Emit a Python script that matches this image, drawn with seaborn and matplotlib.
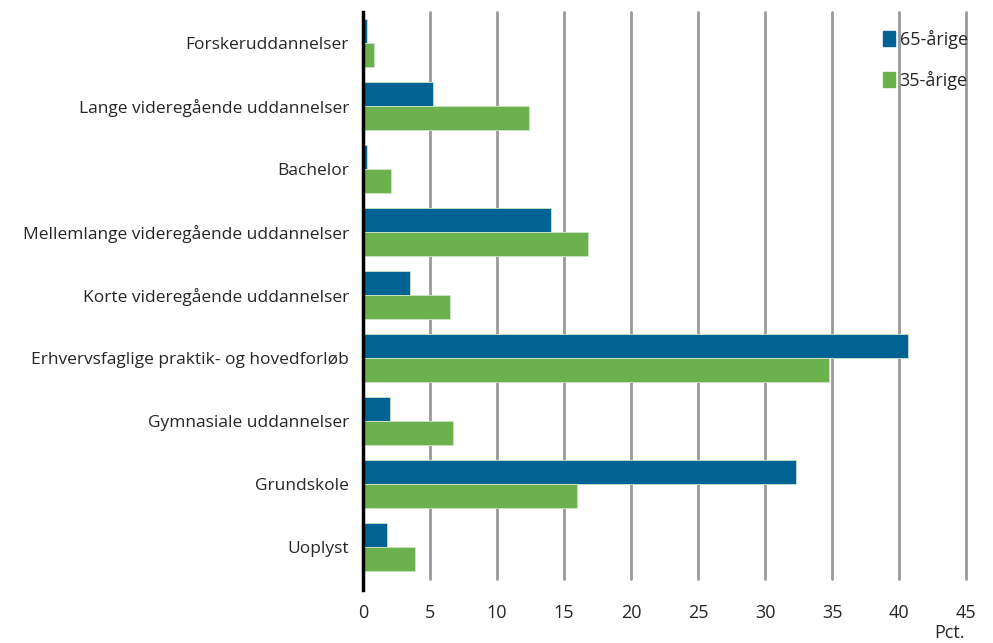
import numpy as np
import matplotlib.pyplot as plt
import pandas as pd
import seaborn as sns
from matplotlib.patches import Patch

# Uddannelsesniveau, andel i pct.
categories = ['Forskeruddannelser', 'Lange videregående uddannelser', 'Bachelor',
              'Mellemlange videregående uddannelser', 'Korte videregående uddannelser',
              'Erhvervsfaglige praktik- og hovedforløb', 'Gymnasiale uddannelser',
              'Grundskole', 'Uoplyst']
age65 = [0.3, 5.2, 0.3, 14.0, 3.5, 40.7, 2.0, 32.3, 1.8]
age35 = [0.8, 12.4, 2.1, 16.8, 6.5, 34.8, 6.7, 16.0, 3.9]
series = ['65-årige', '35-årige']
xticks = [0, 5, 10, 15, 20, 25, 30, 35, 40, 45]

df = pd.DataFrame({'Uddannelse': categories * 2,
                   'Pct': age65 + age35,
                   'Gruppe': [series[0]] * len(categories) + [series[1]] * len(categories)})

sns.set_style('white')
plt.rcParams['font.family'] = ['Open Sans', 'DejaVu Sans']

colors = {'65-årige': '#006393', '35-årige': '#6BB24F'}
grid_col = '#999999'

fig = plt.figure(figsize=(9.93, 6.43), dpi=100)
ax = fig.add_axes([363 / 993, 1 - 578.5 / 643, (966 - 363) / 993, (578.5 - 11.5) / 643])

sns.barplot(data=df, y='Uddannelse', x='Pct', hue='Gruppe', orient='h',
            palette=colors, saturation=1, width=0.76, ax=ax, legend=False,
            edgecolor='#cfe3c6', linewidth=0.6)

ax.set_xlim(0, 45)
ax.set_ylim(len(categories) - 0.5, -0.5)
ax.set_xticks(xticks)
ax.set_xticklabels([str(t) for t in xticks])
ax.xaxis.grid(True, color=grid_col, linewidth=2)
for gl in ax.get_xgridlines():
    gl.set_clip_on(False)
ax.set_axisbelow(True)
for s in ['top', 'right', 'bottom']:
    ax.spines[s].set_visible(False)
ax.spines['left'].set_color('black')
ax.spines['left'].set_linewidth(2.5)
ax.spines['left'].set_bounds(len(categories) - 0.5 + 0.18, -0.5)
ax.tick_params(axis='x', length=12, width=1.3, color=grid_col, labelsize=13, pad=6, direction='out')
ax.tick_params(axis='y', length=0, labelsize=12.5, pad=10)
ax.set_xlabel('')
ax.set_ylabel('')
fig.text(950 / 993, 1 - 633 / 643, 'Pct.', ha='center', va='center', fontsize=13)

handles = [Patch(color=colors[s], label=s) for s in series]
ax.legend(handles=handles, loc='upper right', bbox_to_anchor=(1.015, 0.98), frameon=False,
          fontsize=13, handlelength=0.7, handleheight=0.9, handletextpad=0.25,
          labelspacing=1.2, borderaxespad=0)

plt.savefig('out.png', dpi=100)
